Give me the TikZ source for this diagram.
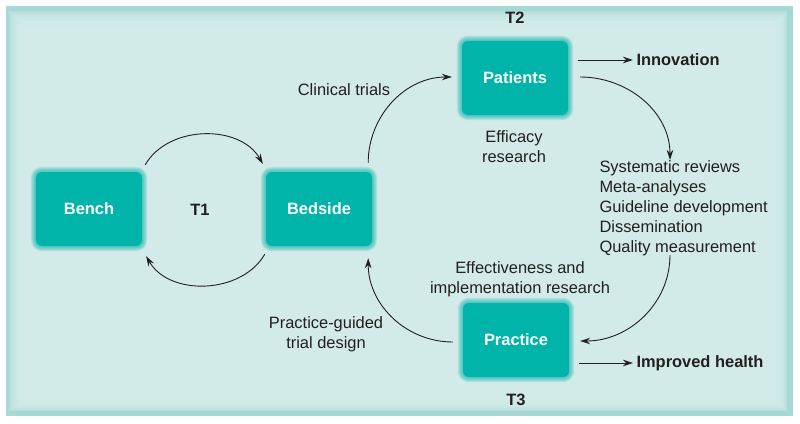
\documentclass[tikz,border=0pt]{standalone}
\usepackage{fontspec}
\setmainfont{Liberation Sans}
\usetikzlibrary{arrows.meta, backgrounds}

\definecolor{boxteal}{HTML}{00B4AA}
\definecolor{panelbg}{HTML}{D4ECEA}
\definecolor{paneledge}{HTML}{A6D9D5}
\definecolor{inkgray}{HTML}{231F20}
\newcommand{\figfont}{\fontsize{16.5}{20}\selectfont}

\tikzstyle{stage} = [rectangle, rounded corners = 6bp, fill = boxteal, text = white, font = \figfont\bfseries, minimum width = 106bp, minimum height = 74bp]
\tikzstyle{tag} = [font = \figfont\bfseries, text = inkgray]
\tikzstyle{note} = [align = center, font = \figfont, text = inkgray]
\tikzstyle{flow} = [-{Stealth[length = 10bp, width = 6.5bp]}, line width = 0.9bp, inkgray]

\begin{document}
\begin{tikzpicture}[x = 1bp, y = 1bp]
  \useasboundingbox (0, 0) rectangle (800, 423);
  \node[stage] (bench) at (89, 214) {Bench};
  \node[stage] (bedside) at (319, 214) {Bedside};
  \node[stage] (patients) at (515, 345) {Patients};
  \node[stage] (practice) at (516, 83) {Practice};
  \node[tag] (t1) at (200, 213) {T1};
  \node[tag] (t2) at (515, 405) {T2};
  \node[tag] (t3) at (516, 23) {T3};
  \node[note] (trials) at (344, 333) {Clinical trials};
  \node[note] (efficacy) at (514, 276) {Efficacy\\research};
  \node[note] (effect) at (520, 144) {Effectiveness and\\implementation research};
  \node[note] (guided) at (326, 89) {Practice-guided\\trial design};
  \node[note, align = left, anchor = west] (tasks) at (596, 215)
    {Systematic reviews\\Meta-analyses\\Guideline development\\Dissemination\\Quality measurement};
  \node[tag, anchor = west] (innovation) at (633, 363) {Innovation};
  \node[tag, anchor = west] (health) at (633, 60) {Improved health};

  \draw[flow] ([shift = {(3, 7)}]bench.north east) to[out = 60, in = 120] ([shift = {(-3, 8)}]bedside.north west);
  \draw[flow] ([shift = {(-1, -8)}]bedside.south west) to[out = -120, in = -60] ([shift = {(4, -10)}]bench.south east);
  \draw[flow] ([shift = {(-4, 9)}]bedside.north east) to[out = 90, in = 180] ([shift = {(-10, 1)}]patients.west);
  \draw[flow] ([shift = {(12, 1)}]patients.east) to[out = 0, in = 90] ([shift = {(74, -3)}]tasks.north west);
  \draw[flow] ([shift = {(74, 4)}]tasks.south west) to[out = -90, in = 0] ([shift = {(11, -1)}]practice.east);
  \draw[flow] ([shift = {(-10, -2)}]practice.west) to[out = 180, in = -90] ([shift = {(-4, -12)}]bedside.south east);
  \draw[flow] ([shift = {(10, 18)}]patients.east) -- (innovation.west);
  \draw[flow] ([shift = {(10, -23)}]practice.east) -- (health.west);

  \begin{pgfonlayer}{background}
    \fill[white] (0, 0) rectangle (800, 423);
    \fill[paneledge] (6, 7) rectangle (793, 417);
    \foreach \k in {0, ..., 9} {
      \fill[panelbg, opacity = 0.35] (9 + \k * 2, 12 + \k * 1.5) rectangle (787 - \k * 1.5, 412 - \k * 2);
    }
    \foreach \n in {bench, bedside, patients, practice} {
      \foreach \k in {1, ..., 5} {
        \fill[boxteal, opacity = 0.16, rounded corners = 6bp + \k bp]
          ([shift = {(-\k, -\k)}]\n.south west) rectangle ([shift = {(\k, \k)}]\n.north east);
      }
    }
  \end{pgfonlayer}
\end{tikzpicture}
\end{document}
